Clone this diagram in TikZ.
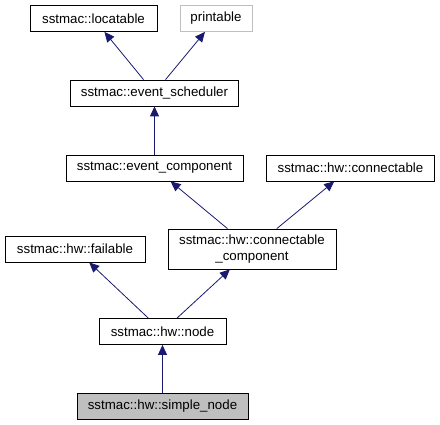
\documentclass[tikz,border=0pt]{standalone}
\usepackage{fontspec}
\setmainfont{Liberation Sans}
\usetikzlibrary{arrows.meta}
\definecolor{edgeblue}{HTML}{191970}
\definecolor{boxgray}{HTML}{BFBFBF}
\tikzset{
	cls/.style={draw=black, line width=0.8pt, fill=white, inner sep=0pt, minimum height=26pt, align=center, font=\fontsize{13.3}{16}\selectfont},
	extcls/.style={cls, draw=boxgray},
	curcls/.style={cls, fill=boxgray},
	inherit/.style={draw=edgeblue, line width=0.8pt, -{Triangle[length=10pt, width=9pt, fill=edgeblue]}}
}

\begin{document}
\begin{tikzpicture}[x=1pt, y=-1pt]
		%%%%% START %%%%%
		\useasboundingbox (0, 0) rectangle (440, 425);
		
		\node[cls, minimum width=127pt] (locatable) at (93.5, 18.5) {sstmac::locatable};
		\node[extcls, minimum width=72pt] (printable) at (216, 18.5) {printable};
		
		\node[cls, minimum width=168pt] (scheduler) at (154.5, 93) {sstmac::event\_scheduler};
		
		\node[cls, minimum width=177pt] (component) at (154.5, 168) {sstmac::event\_component};
		\node[cls, minimum width=168pt] (connectable) at (350.5, 168) {sstmac::hw::connectable};
		
		\node[cls, minimum width=140pt] (failable) at (75, 249) {sstmac::hw::failable};
		\node[cls, minimum width=168pt, minimum height=40pt] (conncomp) at (252, 249) {sstmac::hw::connectable\\\_component};
		
		\node[cls, minimum width=127pt] (hwnode) at (162.5, 331.5) {sstmac::hw::node};
		\node[curcls, minimum width=171pt] (simplenode) at (162.5, 406) {sstmac::hw::simple\_node};
		
		\draw[inherit] (scheduler) -- (locatable);
		\draw[inherit] (scheduler) -- (printable);
		\draw[inherit] (component) -- (scheduler);
		\draw[inherit] (conncomp) -- (component);
		\draw[inherit] (conncomp) -- (connectable);
		\draw[inherit] (hwnode) -- (failable);
		\draw[inherit] (hwnode) -- (conncomp);
		\draw[inherit] (simplenode) -- (hwnode);
		
		%%%%% END %%%%%
	\end{tikzpicture}
\end{document}
